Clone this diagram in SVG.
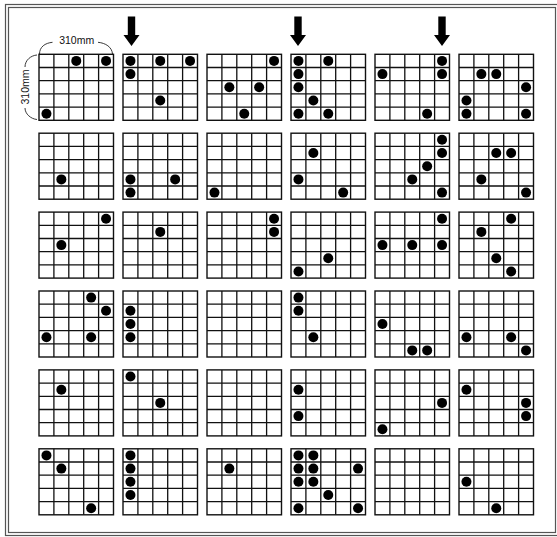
<svg xmlns="http://www.w3.org/2000/svg" xmlns:xlink="http://www.w3.org/1999/xlink" width="557" height="537" viewBox="0 0 557 537">
<style>
.frame{fill:none;stroke:#555;stroke-width:1.2}
.gbox{fill:#fff;stroke:#111;stroke-width:1.4}
.gl{stroke:#111;stroke-width:1.3}
.dot{fill:#000}
.arrow{fill:#000}
.dim{fill:none;stroke:#222;stroke-width:0.9}
.lbl{font-family:"Liberation Sans",Arial,sans-serif;font-size:10.5px;fill:#111}
</style>
<defs>
<g id="grid">
<rect class="gbox" x="0" y="0" width="74.5" height="66"/>
<path class="gl" d="M14.9,0V66M29.8,0V66M44.7,0V66M59.6,0V66M0,13.2H74.5M0,26.4H74.5M0,39.6H74.5M0,52.8H74.5"/>
</g>
<circle id="d" class="dot" r="5"/>
</defs>
<rect width="557" height="537" fill="#fff"/>
<g id="border">
<rect class="frame" x="5.5" y="4.5" width="553" height="531"/>
<rect class="frame" x="8.5" y="7.5" width="547" height="525"/>
</g>
<g id="connectors">
<polygon class="arrow" points="127.8,16.5 135.2,16.5 135.2,35 139.5,35 131.5,46 123.5,35 127.8,35"/>
<polygon class="arrow" points="294.3,16.5 301.7,16.5 301.7,35 306,35 298,46 290,35 294.3,35"/>
<polygon class="arrow" points="438.3,16.5 445.7,16.5 445.7,35 450,35 442,46 434,35 438.3,35"/>
</g>
<g id="dimensions">
<path class="dim" d="M39.5,54 C39.5,47 45,43 52.5,42.3"/>
<path class="dim" d="M98,42.3 C105.5,43 112,47 112.5,54"/>
<text class="lbl" x="76.7" y="43.5" text-anchor="middle">310mm</text>
<path class="dim" d="M37,55 C31,55.5 25,60 25,67"/>
<path class="dim" d="M25,108 C25,114 31,119 37,119.5"/>
<text class="lbl" transform="translate(28.5,87) rotate(-90)" text-anchor="middle">310mm</text>
</g>
<g id="r1c1" transform="translate(39,54.3)"><use xlink:href="#grid"/>
<use xlink:href="#d" x="37.25" y="6.6"/><use xlink:href="#d" x="67.05" y="6.6"/><use xlink:href="#d" x="7.45" y="59.4"/></g>
<g id="r1c2" transform="translate(123,54.3)"><use xlink:href="#grid"/>
<use xlink:href="#d" x="7.45" y="6.6"/><use xlink:href="#d" x="37.25" y="6.6"/><use xlink:href="#d" x="67.05" y="6.6"/><use xlink:href="#d" x="7.45" y="19.8"/><use xlink:href="#d" x="37.25" y="46.2"/></g>
<g id="r1c3" transform="translate(207,54.3)"><use xlink:href="#grid"/>
<use xlink:href="#d" x="67.05" y="6.6"/><use xlink:href="#d" x="22.35" y="33"/><use xlink:href="#d" x="52.15" y="33"/><use xlink:href="#d" x="37.25" y="59.4"/></g>
<g id="r1c4" transform="translate(291,54.3)"><use xlink:href="#grid"/>
<use xlink:href="#d" x="7.45" y="6.6"/><use xlink:href="#d" x="37.25" y="6.6"/><use xlink:href="#d" x="7.45" y="19.8"/><use xlink:href="#d" x="7.45" y="33"/><use xlink:href="#d" x="22.35" y="46.2"/><use xlink:href="#d" x="7.45" y="59.4"/><use xlink:href="#d" x="37.25" y="59.4"/></g>
<g id="r1c5" transform="translate(375,54.3)"><use xlink:href="#grid"/>
<use xlink:href="#d" x="67.05" y="6.6"/><use xlink:href="#d" x="7.45" y="19.8"/><use xlink:href="#d" x="67.05" y="19.8"/><use xlink:href="#d" x="52.15" y="59.4"/></g>
<g id="r1c6" transform="translate(459,54.3)"><use xlink:href="#grid"/>
<use xlink:href="#d" x="22.35" y="19.8"/><use xlink:href="#d" x="37.25" y="19.8"/><use xlink:href="#d" x="67.05" y="33"/><use xlink:href="#d" x="7.45" y="46.2"/><use xlink:href="#d" x="7.45" y="59.4"/><use xlink:href="#d" x="67.05" y="59.4"/></g>
<g id="r2c1" transform="translate(39,133.2)"><use xlink:href="#grid"/>
<use xlink:href="#d" x="22.35" y="46.2"/></g>
<g id="r2c2" transform="translate(123,133.2)"><use xlink:href="#grid"/>
<use xlink:href="#d" x="7.45" y="46.2"/><use xlink:href="#d" x="52.15" y="46.2"/><use xlink:href="#d" x="7.45" y="59.4"/></g>
<g id="r2c3" transform="translate(207,133.2)"><use xlink:href="#grid"/>
<use xlink:href="#d" x="7.45" y="59.4"/></g>
<g id="r2c4" transform="translate(291,133.2)"><use xlink:href="#grid"/>
<use xlink:href="#d" x="22.35" y="19.8"/><use xlink:href="#d" x="7.45" y="46.2"/><use xlink:href="#d" x="52.15" y="59.4"/></g>
<g id="r2c5" transform="translate(375,133.2)"><use xlink:href="#grid"/>
<use xlink:href="#d" x="67.05" y="6.6"/><use xlink:href="#d" x="67.05" y="19.8"/><use xlink:href="#d" x="52.15" y="33"/><use xlink:href="#d" x="37.25" y="46.2"/><use xlink:href="#d" x="67.05" y="59.4"/></g>
<g id="r2c6" transform="translate(459,133.2)"><use xlink:href="#grid"/>
<use xlink:href="#d" x="37.25" y="19.8"/><use xlink:href="#d" x="52.15" y="19.8"/><use xlink:href="#d" x="22.35" y="46.2"/><use xlink:href="#d" x="67.05" y="59.4"/></g>
<g id="r3c1" transform="translate(39,212.1)"><use xlink:href="#grid"/>
<use xlink:href="#d" x="67.05" y="6.6"/><use xlink:href="#d" x="22.35" y="33"/></g>
<g id="r3c2" transform="translate(123,212.1)"><use xlink:href="#grid"/>
<use xlink:href="#d" x="37.25" y="19.8"/></g>
<g id="r3c3" transform="translate(207,212.1)"><use xlink:href="#grid"/>
<use xlink:href="#d" x="67.05" y="6.6"/><use xlink:href="#d" x="67.05" y="19.8"/></g>
<g id="r3c4" transform="translate(291,212.1)"><use xlink:href="#grid"/>
<use xlink:href="#d" x="37.25" y="46.2"/><use xlink:href="#d" x="7.45" y="59.4"/></g>
<g id="r3c5" transform="translate(375,212.1)"><use xlink:href="#grid"/>
<use xlink:href="#d" x="67.05" y="6.6"/><use xlink:href="#d" x="7.45" y="33"/><use xlink:href="#d" x="37.25" y="33"/><use xlink:href="#d" x="67.05" y="33"/></g>
<g id="r3c6" transform="translate(459,212.1)"><use xlink:href="#grid"/>
<use xlink:href="#d" x="52.15" y="6.6"/><use xlink:href="#d" x="22.35" y="19.8"/><use xlink:href="#d" x="37.25" y="46.2"/><use xlink:href="#d" x="52.15" y="59.4"/></g>
<g id="r4c1" transform="translate(39,291)"><use xlink:href="#grid"/>
<use xlink:href="#d" x="52.15" y="6.6"/><use xlink:href="#d" x="67.05" y="19.8"/><use xlink:href="#d" x="7.45" y="46.2"/><use xlink:href="#d" x="52.15" y="46.2"/></g>
<g id="r4c2" transform="translate(123,291)"><use xlink:href="#grid"/>
<use xlink:href="#d" x="7.45" y="19.8"/><use xlink:href="#d" x="7.45" y="33"/><use xlink:href="#d" x="7.45" y="46.2"/></g>
<g id="r4c3" transform="translate(207,291)"><use xlink:href="#grid"/></g>
<g id="r4c4" transform="translate(291,291)"><use xlink:href="#grid"/>
<use xlink:href="#d" x="7.45" y="6.6"/><use xlink:href="#d" x="7.45" y="19.8"/><use xlink:href="#d" x="22.35" y="46.2"/></g>
<g id="r4c5" transform="translate(375,291)"><use xlink:href="#grid"/>
<use xlink:href="#d" x="7.45" y="33"/><use xlink:href="#d" x="37.25" y="59.4"/><use xlink:href="#d" x="52.15" y="59.4"/></g>
<g id="r4c6" transform="translate(459,291)"><use xlink:href="#grid"/>
<use xlink:href="#d" x="7.45" y="46.2"/><use xlink:href="#d" x="52.15" y="46.2"/><use xlink:href="#d" x="67.05" y="59.4"/></g>
<g id="r5c1" transform="translate(39,369.9)"><use xlink:href="#grid"/>
<use xlink:href="#d" x="22.35" y="19.8"/></g>
<g id="r5c2" transform="translate(123,369.9)"><use xlink:href="#grid"/>
<use xlink:href="#d" x="7.45" y="6.6"/><use xlink:href="#d" x="37.25" y="33"/></g>
<g id="r5c3" transform="translate(207,369.9)"><use xlink:href="#grid"/></g>
<g id="r5c4" transform="translate(291,369.9)"><use xlink:href="#grid"/>
<use xlink:href="#d" x="7.45" y="19.8"/><use xlink:href="#d" x="7.45" y="46.2"/></g>
<g id="r5c5" transform="translate(375,369.9)"><use xlink:href="#grid"/>
<use xlink:href="#d" x="67.05" y="33"/><use xlink:href="#d" x="7.45" y="59.4"/></g>
<g id="r5c6" transform="translate(459,369.9)"><use xlink:href="#grid"/>
<use xlink:href="#d" x="7.45" y="19.8"/><use xlink:href="#d" x="67.05" y="33"/><use xlink:href="#d" x="67.05" y="46.2"/></g>
<g id="r6c1" transform="translate(39,448.8)"><use xlink:href="#grid"/>
<use xlink:href="#d" x="7.45" y="6.6"/><use xlink:href="#d" x="22.35" y="19.8"/><use xlink:href="#d" x="52.15" y="59.4"/></g>
<g id="r6c2" transform="translate(123,448.8)"><use xlink:href="#grid"/>
<use xlink:href="#d" x="7.45" y="6.6"/><use xlink:href="#d" x="7.45" y="19.8"/><use xlink:href="#d" x="7.45" y="33"/><use xlink:href="#d" x="7.45" y="46.2"/></g>
<g id="r6c3" transform="translate(207,448.8)"><use xlink:href="#grid"/>
<use xlink:href="#d" x="22.35" y="19.8"/></g>
<g id="r6c4" transform="translate(291,448.8)"><use xlink:href="#grid"/>
<use xlink:href="#d" x="7.45" y="6.6"/><use xlink:href="#d" x="22.35" y="6.6"/><use xlink:href="#d" x="7.45" y="19.8"/><use xlink:href="#d" x="22.35" y="19.8"/><use xlink:href="#d" x="67.05" y="19.8"/><use xlink:href="#d" x="7.45" y="33"/><use xlink:href="#d" x="22.35" y="33"/><use xlink:href="#d" x="37.25" y="46.2"/><use xlink:href="#d" x="7.45" y="59.4"/><use xlink:href="#d" x="67.05" y="59.4"/></g>
<g id="r6c5" transform="translate(375,448.8)"><use xlink:href="#grid"/></g>
<g id="r6c6" transform="translate(459,448.8)"><use xlink:href="#grid"/>
<use xlink:href="#d" x="7.45" y="33"/><use xlink:href="#d" x="37.25" y="59.4"/></g>
</svg>
